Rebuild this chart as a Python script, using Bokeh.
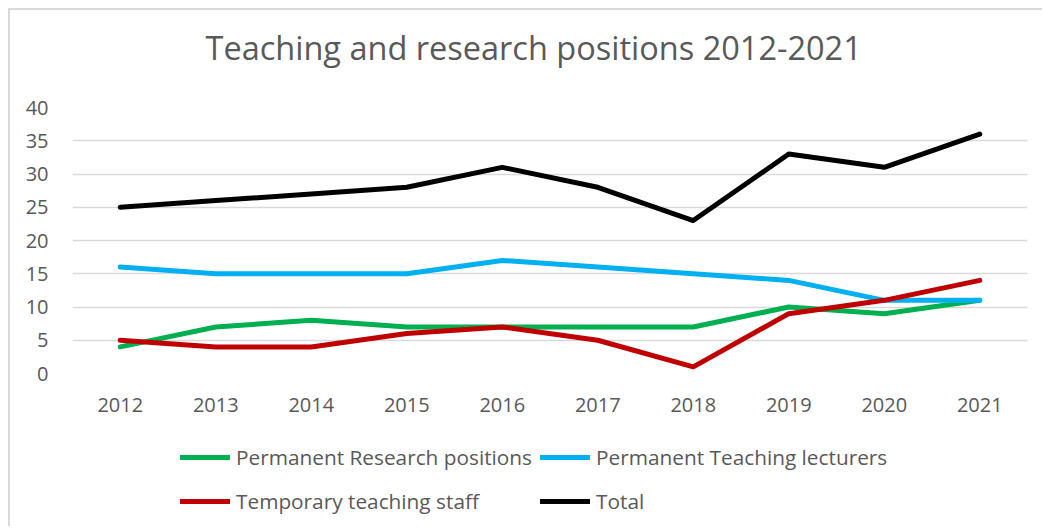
from bokeh.plotting import figure
from bokeh.models import Legend, LegendItem, FixedTicker, Range1d, Title
from bokeh.layouts import column
from bokeh.embed import file_html
from bokeh.resources import INLINE

years = ["2012", "2013", "2014", "2015", "2016", "2017", "2018", "2019", "2020", "2021"]
research = [4, 7, 8, 7, 7, 7, 7, 10, 9, 11]
teaching = [16, 15, 15, 15, 17, 16, 15, 14, 11, 11]
temporary = [5, 4, 4, 6, 7, 5, 1, 9, 11, 14]
total = [25, 26, 27, 28, 31, 28, 23, 33, 31, 36]
y_ticks = [0, 5, 10, 15, 20, 25, 30, 35, 40]

series = [
    ("Permanent Research positions", research, "#00B050"),
    ("Permanent Teaching lecturers", teaching, "#00B0F0"),
    ("Temporary teaching staff", temporary, "#C00000"),
    ("Total", total, "#000000"),
]

FONT = "Open Sans"
GREY = "#595959"
BORDER = "2px solid #d9d9d9"

p = figure(x_range=years, y_range=Range1d(0, 40), width=1034, height=423,
           output_backend="svg", toolbar_location=None,
           min_border_left=62, min_border_right=17, min_border_top=97, min_border_bottom=60)
p.styles = {"margin-left": "8px", "margin-top": "8px", "border-top": BORDER, "border-left": BORDER}

p.title.text = "Teaching and research positions 2012-2021"
p.title.text_font = FONT
p.title.text_font_size = "32.5px"
p.title.text_font_style = "normal"
p.title.text_color = GREY
p.title.align = "left"
p.title.offset = 133
# spacer between the title and the frame
p.add_layout(Title(text=" ", text_font_size="19px"), "above")

p.outline_line_color = None
p.xgrid.grid_line_color = None
p.ygrid.grid_line_color = "#d9d9d9"
p.ygrid.grid_line_width = 1.5
p.yaxis.ticker = FixedTicker(ticks=y_ticks)

for ax in (p.xaxis, p.yaxis):
    ax.axis_line_color = None
    ax.major_tick_line_color = None
    ax.minor_tick_line_color = None
    ax.major_label_text_font = FONT
    ax.major_label_text_font_size = "20px"
    ax.major_label_text_color = GREY
p.yaxis.major_label_standoff = 18
p.xaxis.major_label_standoff = 18

# legend strip below the chart (its y-range keeps the proxy lines out of view)
p2 = figure(x_range=years, y_range=Range1d(100, 101), width=1034, height=95,
            output_backend="svg", toolbar_location=None, min_border=0)
p2.styles = {"margin-left": "8px", "border-left": BORDER}
p2.axis.visible = False
p2.grid.visible = False
p2.outline_line_color = None

items = []
for name, vals, color in series:
    p.line(years, vals, line_color=color, line_width=5, line_cap="round", line_join="round")
    proxy = p2.line(years, vals, line_color=color, line_width=5, line_cap="round")
    items.append(LegendItem(label=name, renderers=[proxy]))

def make_legend(its, loc):
    lg = Legend(items=its, location=loc, orientation="vertical")
    lg.label_text_font = FONT
    lg.label_text_font_size = "20.8px"
    lg.label_text_color = GREY
    lg.glyph_width = 50
    lg.glyph_height = 24
    lg.label_height = 24
    lg.label_standoff = 6
    lg.spacing = 16
    lg.padding = 0
    lg.margin = 0
    lg.border_line_color = None
    lg.background_fill_alpha = 0
    return lg

p2.add_layout(make_legend([items[0], items[2]], (108, 11)), "center")
p2.add_layout(make_legend([items[1], items[3]], (468, 11)), "center")

layout = column(p, p2, spacing=0)
open("out.html", "w").write(file_html(layout, INLINE))
